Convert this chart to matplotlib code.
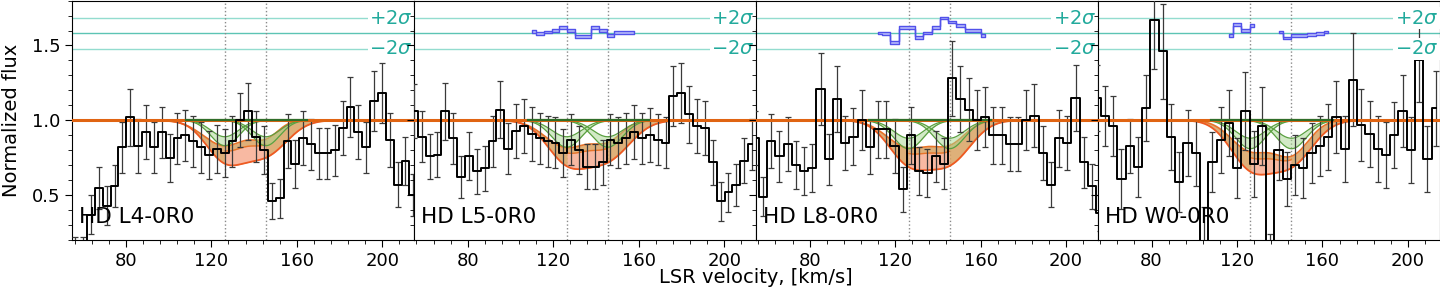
import numpy as np
import matplotlib.pyplot as plt
from matplotlib.ticker import MultipleLocator

names = ['HD L4-0R0', 'HD L5-0R0', 'HD L8-0R0', 'HD W0-0R0']

# spectrum grids: centre of first pixel and pixel width [km/s]
v_first = [56.3, 54.8, 54.3, 54.3]
v_step = [3.68, 3.68, 3.85, 3.87]

flux_l4 = [0.17, 0.17, 0.37, 0.55, 0.43, 0.56, 0.82, 1.02, 0.83, 0.92, 0.82, 0.92, 0.75, 0.88, 0.90,
           0.86, 0.82, 0.77, 0.81, 0.78, 0.86, 1.00, 1.06, 0.89, 0.80, 0.46, 0.48, 0.86, 0.71, 0.88,
           0.84, 0.78, 0.78, 0.80, 0.95, 1.09, 0.92, 0.82, 1.13, 1.18, 0.87, 0.57, 0.73, 0.50]
err_l4 = [0.05, 0.05, 0.13, 0.14, 0.13, 0.14, 0.17, 0.19, 0.18, 0.18, 0.17, 0.17, 0.16, 0.17, 0.17,
          0.17, 0.17, 0.16, 0.16, 0.16, 0.17, 0.18, 0.19, 0.17, 0.16, 0.12, 0.13, 0.18, 0.16, 0.18,
          0.17, 0.17, 0.17, 0.17, 0.18, 0.20, 0.18, 0.17, 0.20, 0.20, 0.18, 0.15, 0.16, 0.14]

flux_l5 = [1.06, 0.89, 0.76, 0.77, 1.06, 0.88, 0.62, 0.76, 0.66, 0.68, 0.86, 1.07, 0.81, 0.93, 0.96,
           0.91, 0.88, 0.86, 0.85, 0.78, 0.87, 0.80, 0.69, 0.69, 0.72, 0.87, 0.85, 0.88, 0.92, 0.88,
           0.90, 0.87, 0.85, 1.16, 1.18, 1.04, 0.96, 0.95, 0.72, 0.46, 0.52, 0.57, 0.73, 0.84]
err_l5 = [0.18, 0.17, 0.15, 0.15, 0.19, 0.17, 0.14, 0.16, 0.15, 0.15, 0.17, 0.19, 0.17, 0.18, 0.18,
          0.18, 0.17, 0.17, 0.17, 0.16, 0.17, 0.16, 0.15, 0.15, 0.15, 0.17, 0.17, 0.17, 0.18, 0.17,
          0.18, 0.17, 0.17, 0.20, 0.20, 0.19, 0.18, 0.18, 0.15, 0.13, 0.13, 0.14, 0.15, 0.17]

flux_l8 = [0.88, 0.49, 0.86, 0.76, 0.84, 0.70, 0.66, 0.68, 1.21, 0.74, 1.14, 0.85, 0.89, 1.00, 0.82,
           0.94, 0.94, 0.83, 0.54, 0.90, 0.66, 0.65, 0.76, 0.71, 1.28, 1.14, 1.07, 1.00, 1.02, 0.90,
           0.90, 0.84, 0.84, 1.00, 1.03, 0.78, 0.57, 0.88, 0.85, 1.15, 0.72, 0.56, 0.38]
err_l8 = [0.18, 0.13, 0.18, 0.17, 0.18, 0.16, 0.16, 0.16, 0.24, 0.17, 0.22, 0.18, 0.19, 0.20, 0.18,
          0.19, 0.19, 0.18, 0.15, 0.19, 0.16, 0.16, 0.17, 0.17, 0.25, 0.22, 0.21, 0.20, 0.20, 0.19,
          0.19, 0.18, 0.18, 0.20, 0.21, 0.18, 0.15, 0.19, 0.18, 0.22, 0.17, 0.15, 0.12]

flux_w0 = [1.15, 1.03, 0.96, 0.61, 0.83, 0.69, 1.08, 1.67, 1.46, 0.89, 0.59, 0.85, 0.78, 0.14, 0.72,
           0.87, 0.98, 0.68, 1.06, 0.71, 0.96, 0.12, 0.80, 0.61, 0.70, 0.68, 0.78, 0.83, 0.89, 1.02,
           0.81, 1.27, 0.97, 0.91, 0.81, 0.77, 0.90, 1.06, 0.80, 1.40, 0.74, 1.08]
err_w0 = [0.22, 0.20, 0.20, 0.20, 0.18, 0.20, 0.22, 0.33, 0.32, 0.22, 0.20, 0.22, 0.22, 0.28, 0.20,
          0.22, 0.22, 0.20, 0.26, 0.22, 0.26, 0.12, 0.20, 0.18, 0.20, 0.20, 0.20, 0.20, 0.22, 0.24,
          0.22, 0.31, 0.24, 0.22, 0.22, 0.22, 0.22, 0.24, 0.22, 0.28, 0.22, 0.25]

fluxes = [flux_l4, flux_l5, flux_l8, flux_w0]
errors = [err_l4, err_l5, err_l8, err_w0]

# residual strips: (first pixel index, values)
res_l5 = [(15, [1.595, 1.582, 1.590, 1.600, 1.622, 1.600, 1.558, 1.560, 1.618, 1.600, 1.568, 1.585, 1.585, 1.585])]
res_l8 = [(15, [1.584, 1.578, 1.518, 1.618, 1.618, 1.551, 1.584, 1.618, 1.684, 1.656, 1.633, 1.600, 1.600, 1.567])]
res_w0 = [(16, [1.565, 1.640, 1.598, 1.633]),
          (22, [1.590, 1.550, 1.567, 1.565, 1.573, 1.578, 1.589])]
residuals = [[], res_l5, res_l8, res_w0]
res_zero = 1.58
res_2sig = 0.103

# fitted components
comp_v = [126.3, 145.5]
# total profile band edges: (depth1, width1, depth2, width2)
tot_hi = [(0.17, 10.0, 0.10, 6.0), (0.18, 10.0, 0.12, 7.0),
          (0.18, 10.0, 0.14, 7.5), (0.20, 9.0, 0.22, 8.0)]
tot_lo = [(0.255, 9.0, 0.224, 10.0), (0.26, 9.5, 0.25, 10.5),
          (0.27, 9.5, 0.27, 10.0), (0.30, 9.5, 0.28, 10.0)]
# single components band: (depth min, depth max, width)
comp_band = [(0.11, 0.17, 6.5), (0.11, 0.18, 7.0), (0.12, 0.19, 7.0), (0.12, 0.19, 7.0)]


def gauss_line(v, depth, centre, width):
    return depth * np.exp(-0.5 * ((v - centre) / width) ** 2)


def total(v, p):
    d1, w1, d2, w2 = p
    return 1 - gauss_line(v, d1, comp_v[0], w1) - gauss_line(v, d2, comp_v[1], w2)


fig, axes = plt.subplots(1, 4, figsize=(14.4, 2.88), dpi=100, sharey=True)
fig.subplots_adjust(left=0.0503, right=1.0, bottom=0.1667, top=0.998, wspace=0)

vm = np.linspace(55, 215, 800)
vc = np.linspace(108, 165, 300)
inner = (vm >= comp_v[0]) & (vm <= comp_v[1])

for i, ax in enumerate(axes):
    v = v_first[i] + v_step[i] * np.arange(len(fluxes[i]))
    f = np.array(fluxes[i])
    e = np.array(errors[i])

    for y, txt in [(res_zero + res_2sig, r'$+2\sigma$'), (res_zero - res_2sig, r'$-2\sigma$')]:
        ax.axhline(y, color='#93dccf', lw=1, zorder=1)
        ax.text(0.995, y, txt, transform=ax.get_yaxis_transform(), ha='right', va='center',
                color='#22aa9c', fontsize=14, zorder=6,
                bbox=dict(facecolor='white', edgecolor='none', pad=1))
    ax.axhline(res_zero, color='#5cc4b4', lw=1, zorder=1)

    for c in comp_v:
        ax.axvline(c, color='#8a8a8a', ls=':', lw=1, zorder=1)

    # total profile band, pink inner part between the two components
    hi = total(vm, tot_hi[i])
    lo = total(vm, tot_lo[i])
    mid = lo + 0.72 * (hi - lo)
    ax.fill_between(vm, lo, hi, color='#d9a262', alpha=0.85, lw=0, zorder=2)
    ax.fill_between(vm, lo, mid, where=inner, color='#f8b9a2', lw=0, zorder=2)
    ax.plot(vm, hi, color='#e8742a', lw=1.2, zorder=3)
    ax.plot(vm[inner], mid[inner], color='#e8742a', lw=1.0, zorder=3)
    ax.plot(vm, lo, color='#ee5a22', lw=1.3, zorder=3)

    # single components
    dmin, dmax, w = comp_band[i]
    for c in comp_v:
        a = 1 - gauss_line(vc, dmin, c, w)
        b = 1 - gauss_line(vc, dmax, c, w)
        ax.fill_between(vc, b, a, color='#a6d68f', alpha=0.5, lw=0, zorder=3)
        ax.plot(vc, a, color='#5aa040', lw=0.9, zorder=4)
        ax.plot(vc, b, color='#5aa040', lw=0.9, zorder=4)

    ax.errorbar(v, f, yerr=e, fmt='none', ecolor='#3a3a3a', elinewidth=0.9, capsize=2,
                capthick=0.9, zorder=4)
    ax.step(v, f, where='mid', color='black', lw=1.4, zorder=5)

    ax.axhline(1.0, color='#e06412', lw=2.2, zorder=4)
    ax.plot([vc[0], vc[-1]], [1.0, 1.0], color='#2f6e2a', lw=1.6, zorder=4)

    for start, vals in residuals[i]:
        vr = v[start:start + len(vals)]
        r = np.array(vals)
        ax.fill_between(vr, r - 0.009, r + 0.009, step='mid', facecolor='#b9bdfb',
                        edgecolor='#5151ea', lw=1.0, zorder=5)

    ax.text(0.02, 0.07, names[i], transform=ax.transAxes, fontsize=15.5, zorder=7)

    ax.set_xlim(55, 215)
    ax.set_ylim(0.2, 1.8)
    ax.xaxis.set_major_locator(MultipleLocator(40))
    ax.xaxis.set_minor_locator(MultipleLocator(8))
    ax.yaxis.set_major_locator(MultipleLocator(0.5))
    ax.yaxis.set_minor_locator(MultipleLocator(0.1))
    ax.tick_params(which='major', labelsize=13, length=5)
    ax.tick_params(which='minor', length=3)

axes[0].set_ylabel('Normalized flux', fontsize=14)
axes[0].yaxis.set_label_coords(-0.15, 0.5)
fig.text(0.525, 0.005, 'LSR velocity, [km/s]', ha='center', va='bottom', fontsize=14)

fig.savefig('out.png', dpi=100)
